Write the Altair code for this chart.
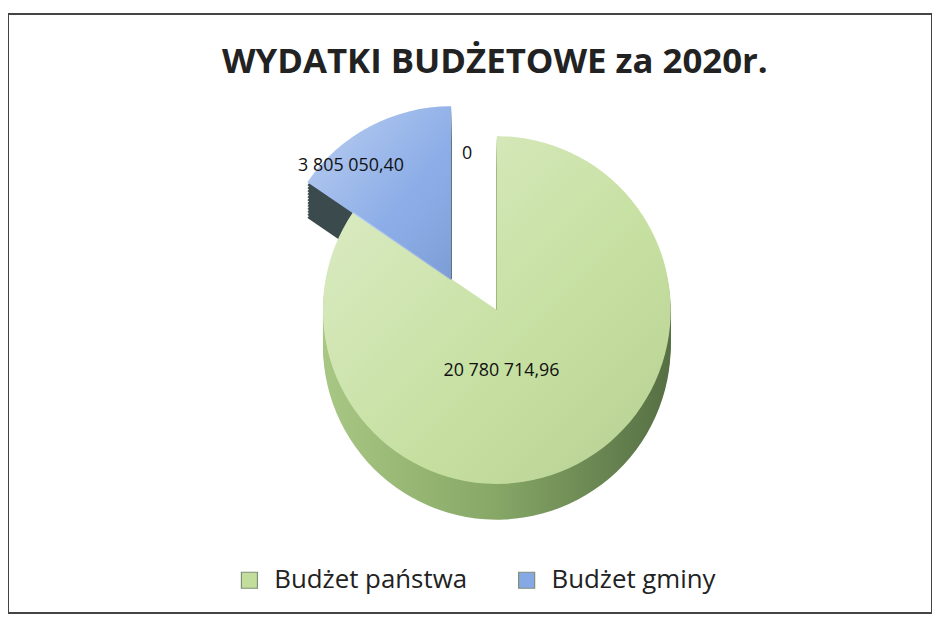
import altair as alt
import pandas as pd

# ---- data ----
categories = ["Budżet państwa", "Budżet gminy"]
values = [20780714.96, 3805050.40]
value_labels = ["20 780 714,96", "3 805 050,40"]
# third (empty) series point shown only as a data label
extra_category = "—"
extra_value = 0
extra_label = "0"

title_text = "WYDATKI BUDŻETOWE za 2020r."

df = pd.DataFrame({"cat": categories, "value": values, "label": value_labels, "idx": [0, 1]})
df_text = pd.DataFrame({
    "cat": categories + [extra_category],
    "value": values + [extra_value],
    "label": value_labels + [extra_label],
    "idx": [0, 1, 2],
})

# ---- style ----
GREEN_TOP = "#c3de9c"
BLUE_TOP = "#86a9e6"
GREEN_SIDE = {
    "gradient": "linear", "x1": 0, "y1": 0, "x2": 1, "y2": 0,
    "stops": [
        {"offset": 0, "color": "#a9c784"},
        {"offset": 0.5, "color": "#86a766"},
        {"offset": 1, "color": "#566f44"},
    ],
}
BLUE_SIDE = "#3b4a4d"
R = 175
CX, CY = 492, 298
EX, EY = -46, -30          # explode offset of the smaller slice
DEPTH = 36
FONT = "Open Sans"

theta = alt.Theta("value:Q", stack=True)
order = alt.Order("idx:Q")
is_green = alt.datum.cat == categories[0]
is_blue = alt.datum.cat == categories[1]

def arc_layer(data, x_off, y_off, color, show):
    return alt.Chart(data).mark_arc(radius=R, xOffset=x_off, yOffset=y_off).encode(
        theta=theta, order=order,
        x=alt.value(CX), y=alt.value(CY),
        color=color,
        opacity=alt.condition(show, alt.value(1), alt.value(0)),
    )

side_color = alt.condition(is_green, alt.value(GREEN_SIDE), alt.value(BLUE_SIDE))
top_color = alt.Color(
    "cat:N",
    scale=alt.Scale(domain=categories, range=[GREEN_TOP, BLUE_TOP]),
    sort=categories,
    legend=alt.Legend(
        title=None, orient="none", direction="horizontal",
        legendX=230, legendY=557,
        symbolType="square", symbolSize=260, symbolStrokeWidth=1.2,
        symbolStrokeColor="#7d8f75",
        labelFont=FONT, labelFontSize=26, labelColor="#222222", labelLimit=400,
        columnPadding=46, symbolOffset=0, labelOffset=12,
    ),
)

layers = []
# side (depth) of the big slice
for d in range(3, DEPTH + 1, 3):
    layers.append(arc_layer(df, 0, d, side_color, is_green))
# side of the exploded slice
for d in range(3, DEPTH + 1, 3):
    layers.append(arc_layer(df, EX, EY + d, side_color, is_blue))
# tops
layers.append(arc_layer(df, 0, 0, top_color, is_green))
layers.append(arc_layer(df, EX, EY, top_color, is_blue))

# shine overlays
shine = {
    "gradient": "linear", "x1": 0, "y1": 0, "x2": 1, "y2": 1,
    "stops": [
        {"offset": 0, "color": "rgba(255,255,255,0.45)"},
        {"offset": 0.6, "color": "rgba(255,255,255,0.05)"},
        {"offset": 1, "color": "rgba(0,0,0,0.08)"},
    ],
}
layers.append(
    alt.Chart(df).mark_arc(radius=R, fill=shine).encode(
        theta=theta, order=order, x=alt.value(CX), y=alt.value(CY),
        opacity=alt.condition(is_green, alt.value(1), alt.value(0)),
    )
)
layers.append(
    alt.Chart(df).mark_arc(radius=R, fill=shine, xOffset=EX, yOffset=EY).encode(
        theta=theta, order=order, x=alt.value(CX), y=alt.value(CY),
        opacity=alt.condition(is_blue, alt.value(1), alt.value(0)),
    )
)

def text_layer(radius, x_off, y_off, show, dx=0, dy=0):
    return alt.Chart(df_text).mark_text(
        radius=radius, xOffset=x_off, yOffset=y_off, dx=dx, dy=dy,
        font=FONT, fontSize=18, color="#111111",
    ).encode(
        theta=theta, order=order, x=alt.value(CX), y=alt.value(CY),
        text="label:N",
        opacity=alt.condition(show, alt.value(1), alt.value(0)),
    )

layers.append(text_layer(70, 0, 0, is_green, dx=-28, dy=0))
layers.append(text_layer(130, EX, EY, is_blue, dx=-40, dy=0))
layers.append(text_layer(R - 18, 0, 0, alt.datum.cat == extra_category, dx=-30, dy=0))

chart = alt.layer(*layers).properties(
    width=930, height=603,
    padding={"left": 0, "top": 4, "right": 0, "bottom": 0},
    title=alt.TitleParams(
        title_text, font=FONT, fontSize=35, fontWeight="bold", color="#222222",
        anchor="middle", offset=-66, dx=25,
    ),
).configure_view(
    stroke="#444444", strokeWidth=2
)

chart.save("out.html", embed_options={"renderer": "svg", "actions": False})
